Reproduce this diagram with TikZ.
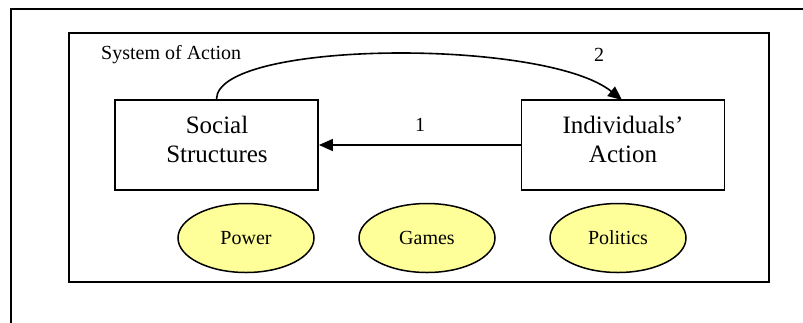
\documentclass[tikz,border=0pt]{standalone}
\usepackage{fontspec}
\setmainfont{Liberation Serif}
\usetikzlibrary{arrows.meta,shapes.geometric}
\definecolor{paleyellow}{RGB}{255,255,153}
\tikzset{
  frameline/.style={line width=2pt},
  actorbox/.style={draw, line width=1.8pt, minimum width=203pt, minimum height=90pt, inner sep=0pt},
  boxtext/.style={align=center, inner sep=0pt, font=\fontsize{25}{29}\selectfont},
  oval/.style={ellipse, draw, line width=1.5pt, fill=paleyellow, minimum width=136pt, minimum height=69pt, inner sep=0pt, font=\fontsize{20}{24}\selectfont},
  flow/.style={line width=1.6pt, -{Triangle[length=14pt,width=12pt]}},
  numlabel/.style={inner sep=0pt, font=\fontsize{20}{24}\selectfont}
}
\begin{document}
\begin{tikzpicture}[x=1pt, y=-1pt]
  \useasboundingbox (0,0) rectangle (803,322);
  % outer page frame (only its top and left sides fall inside)
  \draw[frameline] (11,340) -- (11,9) -- (820,9);
  % system boundary
  \draw[frameline] (69,33) rectangle (769,282);
  \node[anchor=base west, inner sep=0pt, font=\fontsize{20}{24}\selectfont] (sysname) at (101,59.5) {System of Action};

  % the two actors
  \node[actorbox] (social) at (216.5,145) {};
  \node[actorbox] (indiv) at (623,145) {};
  \node[boxtext] (socialtxt) at (217,139) {Social\\Structures};
  \node[boxtext] (indivtxt) at (623,139) {Individuals’\\Action};

  % relations between them
  \draw[flow] (indiv.west) -- (social.east);
  \node[numlabel] (one) at (420,125) {1};
  \draw[flow] (social.north) .. controls (217,40) and (545,38) .. (622,100);
  \node[numlabel] (two) at (599,55) {2};

  % mechanisms
  \node[oval] (power) at (246,238) {Power};
  \node[oval] (games) at (427,238) {Games};
  \node[oval] (politics) at (618,238) {Politics};
\end{tikzpicture}
\end{document}
